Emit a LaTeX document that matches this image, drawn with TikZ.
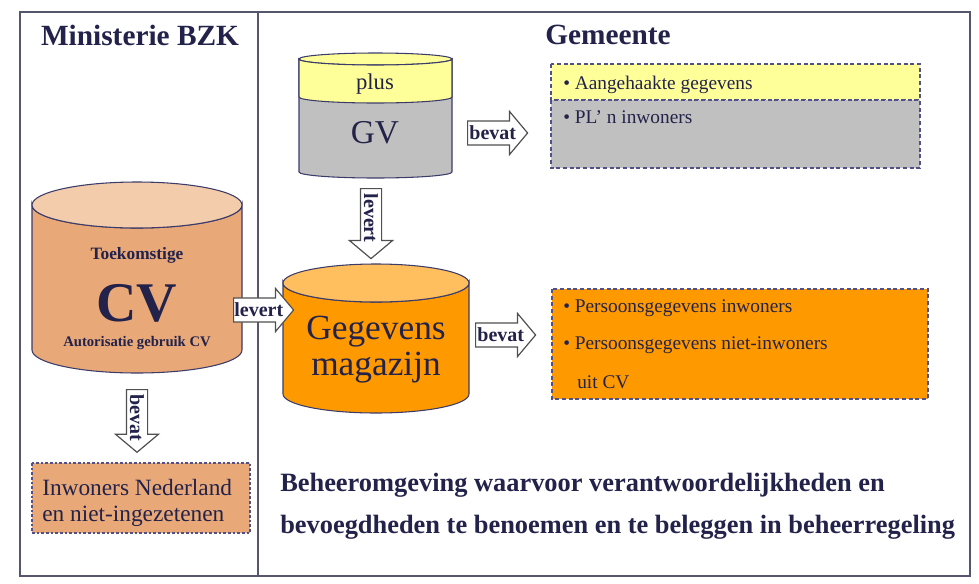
\documentclass[tikz,border=0pt]{standalone}
\usepackage{fontspec}
\setmainfont{Liberation Serif}
\usetikzlibrary{shapes.arrows,calc,positioning}

\definecolor{navy}{HTML}{22224A}
\definecolor{frameline}{HTML}{55556E}
\definecolor{dbedge}{HTML}{3C3C6A}
\definecolor{boxedge}{HTML}{50508A}
\definecolor{arrowedge}{HTML}{505050}
\definecolor{cvbody}{HTML}{E9A878}
\definecolor{cvtop}{HTML}{F3CCAB}
\definecolor{magbody}{HTML}{FF9900}
\definecolor{magtop}{HTML}{FFBF5E}
\definecolor{gvgray}{HTML}{C0C0C0}
\definecolor{gvyellow}{HTML}{FFFF99}

\tikzset{
  dbline/.style={draw=dbedge, line width=0.8pt},
  title/.style={text=navy, inner sep=0pt, font=\fontsize{22}{26}\selectfont\bfseries},
  dbtext/.style={text=navy, inner sep=0pt},
  blockarrow/.style={single arrow, draw=arrowedge, fill=white, line width=0.9pt,
    inner xsep=0pt, inner ysep=8.6pt, single arrow head extend=7.1pt,
    single arrow tip angle=100, minimum height=45pt},
  downarrow/.style={blockarrow, rotate=-90, inner ysep=7.5pt, single arrow head extend=8.2pt},
  arrowtext/.style={text=navy, inner sep=0pt, font=\fontsize{15}{18}\selectfont\bfseries},
  infobox/.style={draw=boxedge, dash pattern=on 3pt off 2pt, line width=0.9pt},
  itemtext/.style={anchor=west, text=navy, inner sep=0pt, font=\fontsize{14.5}{17}\selectfont}
}

% database cylinder: name, left, top, right, bottom, ry, body fill, top fill
\newcommand{\database}[8]{%
  \filldraw[dbline, fill=#7] (#2,#3+#6) -- (#2,#5-#6)
    arc[start angle=180, end angle=0, x radius={(#4-#2)/2}, y radius=#6]
    -- (#4,#3+#6)
    arc[start angle=0, end angle=180, x radius={(#4-#2)/2}, y radius=#6] -- cycle;
  \filldraw[dbline, fill=#8] ({(#2+#4)/2},#3+#6) ellipse[x radius={(#4-#2)/2}, y radius=#6];
  \coordinate (#1) at ({(#2+#4)/2},{(#3+#5)/2});
}

\begin{document}
\begin{tikzpicture}[x=0.75pt, y=-0.75pt]
  \useasboundingbox (0,0) rectangle (979,583);

  % frame
  \draw[frameline, line width=1pt] (20,12) rectangle (970,576);
  \draw[frameline, line width=1pt] (258,12) -- (258,576);
  \node[title] (bzk) at (140,35) {Ministerie BZK};
  \node[title] (gemeente) at (608,35) {Gemeente};

  % databases
  \database{gv}{299}{53}{452}{178}{6}{gvgray}{gvyellow}
  \filldraw[dbline, fill=gvyellow] (299,59) -- (299,97)
    arc[start angle=180, end angle=0, x radius=76.5, y radius=6]
    -- (452,59) arc[start angle=0, end angle=180, x radius=76.5, y radius=6] -- cycle;
  \node[dbtext, font=\fontsize{17}{20}\selectfont] (plus) at (375,84) {plus};
  \node[dbtext, font=\fontsize{25}{30}\selectfont] (gvname) at (375,133) {GV};

  \database{cv}{32}{182}{242}{373}{23}{cvbody}{cvtop}
  \node[dbtext, font=\fontsize{13}{16}\selectfont\bfseries] (toekomst) at (137,255) {Toekomstige};
  \node[dbtext, font=\fontsize{42}{48}\selectfont\bfseries] (cvname) at (137,303) {CV};
  \node[dbtext, font=\fontsize{11}{13}\selectfont\bfseries] (autor) at (137,343) {Autorisatie gebruik CV};

  \database{mag}{283}{264}{469}{413}{19}{magbody}{magtop}
  \node[dbtext, font=\fontsize{26.5}{30}\selectfont] (gegevens) at (376,332) {Gegevens};
  \node[dbtext, font=\fontsize{26.5}{30}\selectfont] (magazijn) at (376,368) {magazijn};

  % content boxes
  \filldraw[infobox, fill=gvyellow] (551,64) rectangle (920,100);
  \filldraw[infobox, fill=gvgray] (551,100) rectangle (920,168);
  \node[itemtext] (aangehaakt) at (563,85) {\textbullet\ Aangehaakte gegevens};
  \node[itemtext] (plinw) at (563,117) {\textbullet\ PL’ n inwoners};

  \filldraw[infobox, fill=magbody] (552,289) rectangle (928,399);
  \node[itemtext] (pginw) at (563,308) {\textbullet\ Persoonsgegevens inwoners};
  \node[itemtext] (pgniet) at (563,345) {\textbullet\ Persoonsgegevens niet-inwoners};
  \node[itemtext] (uitcv) at (577,382) {uit CV};

  \filldraw[infobox, dash pattern=on 2pt off 1.5pt, fill=cvbody] (32,463) rectangle (250,533);
  \node[itemtext, font=\fontsize{17.5}{20}\selectfont] (inwnl) at (42,488) {Inwoners Nederland};
  \node[itemtext, font=\fontsize{17.5}{20}\selectfont] (nietingez) at (42,516) {en niet-ingezetenen};

  % block arrows
  \node[blockarrow, anchor=tail] (levertcv) at (233,310) {};
  \node[arrowtext] at ($(levertcv.tail)!0.42!(levertcv.tip)$) {levert};
  \node[blockarrow, anchor=tail] (bevatgv) at (467,133) {};
  \node[arrowtext] at ($(bevatgv.tail)!0.42!(bevatgv.tip)$) {bevat};
  \node[blockarrow, anchor=tail] (bevatmag) at (475,335) {};
  \node[arrowtext] at ($(bevatmag.tail)!0.42!(bevatmag.tip)$) {bevat};
  \node[downarrow, anchor=tail, minimum height=52.5pt] (levertgv) at (371,188) {};
  \node[arrowtext, rotate=-90] at ($(levertgv.tail)!0.42!(levertgv.tip)$) {levert};
  \node[downarrow, anchor=tail, minimum height=47pt] (bevatcv) at (137,389) {};
  \node[arrowtext, rotate=-90] at ($(bevatcv.tail)!0.45!(bevatcv.tip)$) {bevat};

  % note
  \node[anchor=west, text=navy, inner sep=0pt, font=\fontsize{19.8}{24}\selectfont\bfseries]
    (note1) at (280,485) {Beheeromgeving waarvoor verantwoordelijkheden en};
  \node[anchor=west, text=navy, inner sep=0pt, font=\fontsize{19.8}{24}\selectfont\bfseries]
    (note2) at (280,527) {bevoegdheden te benoemen en te beleggen in beheerregeling};
\end{tikzpicture}
\end{document}
